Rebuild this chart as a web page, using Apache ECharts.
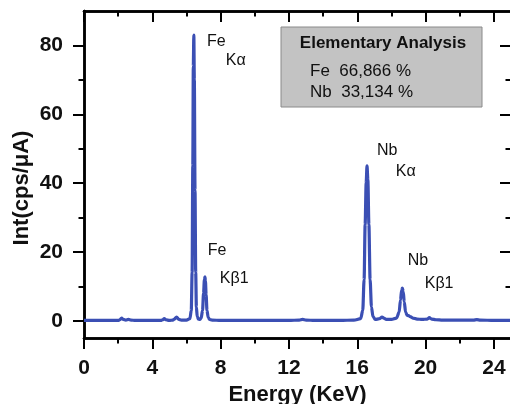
<!DOCTYPE html>
<html><head><meta charset="utf-8">
<script src="https://cdn.jsdelivr.net/npm/echarts@6/dist/echarts.min.js"></script>
<style>html,body{margin:0;padding:0;background:#fff}#c{width:510px;height:404px}</style>
</head><body><div id="c"></div>
<script>
// Spectrum (energy in keV, intensity in cps/uA)
const energy = [
  0, 0.5, 1.0, 1.5, 2.0, 2.1, 2.2, 2.3, 2.45, 2.6,
  2.75, 3.0, 3.5, 4.0, 4.5, 4.6, 4.7, 4.8, 5.0, 5.2,
  5.3, 5.42, 5.55, 5.7, 6.0, 6.2, 6.28, 6.33, 6.37, 6.40,
  6.43, 6.46, 6.5, 6.54, 6.58, 6.63, 6.7, 6.78, 6.86, 6.94,
  7.0, 7.05, 7.08, 7.11, 7.15, 7.2, 7.27, 7.35, 7.5, 8,
  9, 10, 11, 12, 12.6, 12.8, 13.0, 13.5, 14, 15,
  15.8, 16.2, 16.32, 16.4, 16.46, 16.52, 16.57, 16.62, 16.68, 16.75,
  16.83, 16.92, 17.05, 17.3, 17.45, 17.55, 17.7, 18.0, 18.3, 18.45,
  18.53, 18.6, 18.64, 18.69, 18.75, 18.83, 18.92, 19.0, 19.1, 19.25,
  19.5, 19.8, 20.1, 20.22, 20.35, 20.6, 21, 22, 22.8, 23.0,
  23.2, 24, 25
];
const intensity = [
  0.1, 0.1, 0.1, 0.1, 0.1, 0.3, 0.8, 0.4, 0.2, 0.4,
  0.2, 0.1, 0.1, 0.1, 0.1, 0.3, 0.6, 0.3, 0.1, 0.2,
  0.5, 1.1, 0.4, 0.2, 0.2, 0.6, 3, 14, 45, 74,
  83, 70, 38, 14, 4, 1.2, 0.5, 0.4, 0.8, 3,
  8, 12, 12.8, 11.5, 7.5, 3, 1, 0.4, 0.2, 0.1,
  0.1, 0.1, 0.1, 0.1, 0.2, 0.4, 0.2, 0.1, 0.1, 0.1,
  0.2, 0.6, 3, 12, 28, 40, 45, 41, 28, 12,
  4, 1.2, 0.4, 0.6, 1.1, 0.8, 0.4, 0.4, 0.8, 2.5,
  6, 9, 9.5, 8.5, 5.5, 2.5, 1.6, 1.5, 1.2, 0.8,
  0.5, 0.4, 0.5, 0.9, 0.5, 0.3, 0.2, 0.2, 0.2, 0.35,
  0.2, 0.1, 0.1
];
const xMajorTicks = [0, 4, 8, 12, 16, 20, 24];
const xMinorTicks = [2, 6, 10, 14, 18, 22];
const yMajorTicks = [0, 20, 40, 60, 80];
const yMinorTicks = [10, 30, 50, 70];
const peakLabelText = ['Fe', 'K\u03b1', 'Fe', 'K\u03b21', 'Nb', 'K\u03b1', 'Nb', 'K\u03b21'];
const peakLabelEnergy = [7.2, 8.3, 7.25, 7.95, 17.15, 18.25, 18.95, 19.95];
const peakLabelValue = [81, 75.5, 20.3, 12.3, 49.3, 43.3, 17.4, 10.9];
const analysisTitle = 'Elementary Analysis';
const analysisRows = ['Fe  66,866 %', 'Nb  33,134 %'];
const xName = 'Energy (KeV)';
const yName = 'Int(cps/\u03bcA)';

const FONT = '"Liberation Sans", Arial, sans-serif';
const chart = echarts.init(document.getElementById('c'));
const G = {left: 84, top: 11, right: -1, bottom: 66, outerBoundsMode: 'none', containLabel: false};
const XR = {min: 0, max: 25}, YR = {min: -5, max: 90};
const lineStyle = {color: '#000', width: 2.5};
const tickStyle = {color: '#000', width: 2};

function xAx(grid, pos, ticks, len, inside, labels) {
  return Object.assign({
    type: 'value', gridIndex: grid, position: pos, min: XR.min, max: XR.max,
    axisLine: {show: true, onZero: false, lineStyle: lineStyle},
    axisTick: {show: true, customValues: ticks, length: len, inside: inside, lineStyle: tickStyle},
    axisLabel: labels ? {show: true, customValues: ticks, margin: 20, fontSize: 21, fontWeight: 'bold', color: '#111', fontFamily: FONT} : {show: false},
    splitLine: {show: false}
  }, labels && pos === 'bottom' ? {
    name: xName, nameLocation: 'middle', nameGap: 40,
    nameTextStyle: {fontSize: 22, fontWeight: 'bold', color: '#111', fontFamily: FONT}
  } : {});
}
function yAx(grid, pos, ticks, len, inside, labels) {
  return {
    type: 'value', gridIndex: grid, position: pos, min: YR.min, max: YR.max,
    axisLine: {show: true, onZero: false, lineStyle: lineStyle},
    axisTick: {show: true, customValues: ticks, length: len, inside: inside, lineStyle: tickStyle},
    axisLabel: labels ? {show: true, customValues: ticks, margin: 21, fontSize: 21, fontWeight: 'bold', color: '#111', fontFamily: FONT} : {show: false},
    splitLine: {show: false}
  };
}

const spectrum = energy.map((e, i) => [e, intensity[i]]);
const labelData = peakLabelText.map((t, i) => [peakLabelEnergy[i], peakLabelValue[i], t]);

chart.setOption({
  animation: false,
  backgroundColor: '#fff',
  grid: [Object.assign({}, G), Object.assign({}, G)],
  xAxis: [
    xAx(0, 'bottom', xMajorTicks, 11, false, true),
    xAx(0, 'top', xMajorTicks, 11, true, false),
    xAx(1, 'bottom', xMinorTicks, 5.5, false, false),
    xAx(1, 'top', xMinorTicks, 5.5, true, false)
  ],
  yAxis: [
    yAx(0, 'left', yMajorTicks, 11, false, true),
    yAx(0, 'right', yMajorTicks, 11, true, false),
    yAx(1, 'left', yMinorTicks, 5.5, false, false),
    yAx(1, 'right', yMinorTicks, 5.5, true, false)
  ],
  series: [
    {
      type: 'line', xAxisIndex: 0, yAxisIndex: 0, data: spectrum,
      showSymbol: false, smooth: 0.3, smoothMonotone: 'x',
      lineStyle: {color: '#3b4fb4', width: 3.2}, z: 3
    },
    {
      type: 'scatter', xAxisIndex: 0, yAxisIndex: 0, data: labelData,
      symbolSize: 0, silent: true, z: 4, itemStyle: {opacity: 1},
      label: {show: true, position: 'right', distance: 0, formatter: p => p.data[2],
        fontSize: 16, color: '#111', opacity: 1, fontFamily: FONT}
    }
  ],
  graphic: [
    {type: 'rect', shape: {x: 281, y: 27, width: 201, height: 80},
     style: {fill: '#c3c3c3', stroke: '#8a8a8a', lineWidth: 1}, z: 10},
    {type: 'text', x: 383, y: 43, z: 11,
     style: {text: analysisTitle, fontSize: 17, fontWeight: 'bold', fill: '#111', fontFamily: FONT, align: 'center', verticalAlign: 'middle'}},
    {type: 'text', x: 310, y: 71, z: 11,
     style: {text: analysisRows[0], fontSize: 17, fill: '#111', fontFamily: FONT, align: 'left', verticalAlign: 'middle'}},
    {type: 'text', x: 310, y: 92, z: 11,
     style: {text: analysisRows[1], fontSize: 17, fill: '#111', fontFamily: FONT, align: 'left', verticalAlign: 'middle'}},
    {type: 'text', x: 22, y: 188, rotation: Math.PI / 2, z: 11,
     style: {text: yName, fontSize: 22, fontWeight: 'bold', fill: '#111', fontFamily: FONT, align: 'center', verticalAlign: 'middle'}}
  ]
});
</script></body></html>
